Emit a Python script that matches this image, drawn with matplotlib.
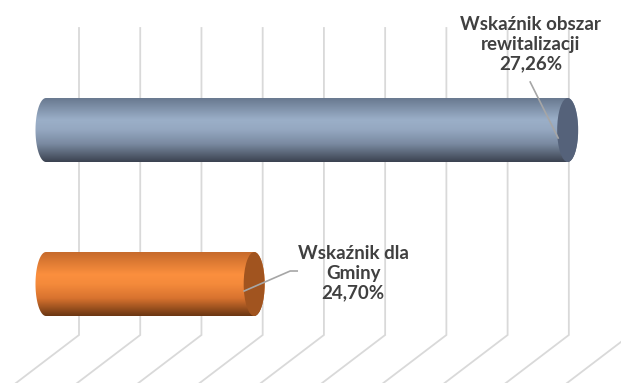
import numpy as np
import matplotlib.pyplot as plt
from matplotlib.patches import Ellipse, PathPatch
from matplotlib.path import Path
from matplotlib.colors import LinearSegmentedColormap

# data
categories = ['Wskaźnik dla\nGminy', 'Wskaźnik obszar\nrewitalizacji']
values = [24.70, 27.26]
value_labels = ['24,70%', '27,26%']
axis_min = 23.0
grid_values = [23.0, 23.5, 24.0, 24.5, 25.0, 25.5, 26.0, 26.5, 27.0, 27.5]

# styling
body_colors = [
    ['#c66a2b', '#fb8f3e', '#f48a3b', '#d9732f', '#6a3612'],
    ['#66768d', '#9bafc8', '#95a8c1', '#7a8aa1', '#3b4250'],
]
cap_colors = ['#a1541f', '#55627a']
text_color = '#404040'
grid_color = '#d9d9d9'
leader_color = '#a6a6a6'

W, H = 621, 383
fig = plt.figure(figsize=(W / 100, H / 100), dpi=100)
ax = fig.add_axes([0, 0, 1, 1])
ax.set_axis_off()

xmin, xmax = 22.6244, 27.6954
ymax = 1.8442
ymin = ymax - H / 154
ax.set_xlim(xmin, xmax)
ax.set_ylim(ymin, ymax)
px_x = (xmax - xmin) / W
px_y = (ymax - ymin) / H

bar_h = 64 * px_y
rx = 10.5 * px_x

# back wall gridlines plus floor diagonals (3d look)
back_dx = 33 * px_x
wall_top = ymax - 28 * px_y
floor_back = ymax - 335 * px_y
depth = np.array([-63 * px_x, -48 * px_y]) * 2
for g in grid_values:
    gx = g + back_dx
    ax.plot([gx, gx, gx + depth[0]], [wall_top, floor_back, floor_back + depth[1]],
            color=grid_color, lw=1.3, zorder=1, solid_joinstyle='miter')


def cylinder_path(x0, x1, yc):
    t = np.linspace(-np.pi / 2, np.pi / 2, 60)
    right = np.column_stack([x1 + rx * np.cos(t), yc + bar_h / 2 * np.sin(t)])
    left = np.column_stack([x0 - rx * np.cos(t), yc - bar_h / 2 * np.sin(t)])
    verts = np.vstack([right, left, right[:1]])
    codes = [Path.MOVETO] + [Path.LINETO] * (len(verts) - 2) + [Path.CLOSEPOLY]
    return Path(verts, codes)


grad = np.linspace(0, 1, 256).reshape(-1, 1)
for i, (val, yc) in enumerate(zip(values, [0, 1])):
    cmap = LinearSegmentedColormap.from_list(
        f'cyl{i}', list(zip([0, 0.35, 0.5, 0.72, 1.0], body_colors[i])))
    clip = PathPatch(cylinder_path(axis_min, val, yc), facecolor='none',
                     edgecolor='none', transform=ax.transData)
    ax.add_patch(clip)
    im = ax.imshow(grad, cmap=cmap, aspect='auto', origin='upper',
                   extent=[axis_min - rx, val + rx, yc - bar_h / 2, yc + bar_h / 2],
                   zorder=2, interpolation='bicubic')
    im.set_clip_path(clip)
    ax.add_patch(Ellipse((val, yc), 2 * rx, bar_h, facecolor=cap_colors[i],
                         edgecolor='none', zorder=3))

ax.set_xlim(xmin, xmax)
ax.set_ylim(ymin, ymax)

# data labels with leader lines (offsets in pixels from the bar end)
label_offsets = [(99, 11), (-37, 86)]
leaders = [
    [(-10, -7), (36, 13), (43, 13)],
    [(-9.5, -8), (-37.5, 48)],
]
for i, (val, yc) in enumerate(zip(values, [0, 1])):
    ox, oy = label_offsets[i]
    ax.text(val + ox * px_x, yc + oy * px_y, categories[i] + '\n' + value_labels[i],
            ha='center', va='center', fontsize=13.5, fontweight='bold',
            family='Lato', color=text_color, linespacing=1.2, zorder=5)
    pts = np.array(leaders[i])
    ax.plot(val + pts[:, 0] * px_x, yc + pts[:, 1] * px_y, color=leader_color,
            lw=1.2, zorder=4)

fig.savefig('out.png', dpi=100)
